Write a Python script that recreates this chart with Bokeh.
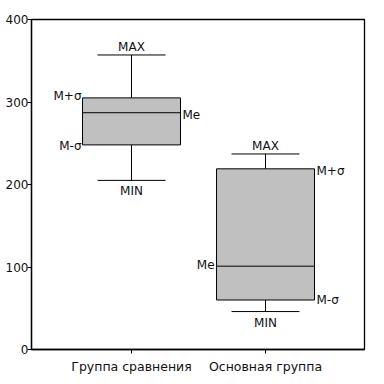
from bokeh.plotting import figure
from bokeh.models import Range1d, FixedTicker, ColumnDataSource
from bokeh.core.properties import value
from bokeh.embed import file_html
from bokeh.resources import INLINE

categories = ["Группа сравнения", "Основная группа"]
positions = [1, 2]
max_vals = [357, 237]
plus_sigma = [305, 219]
medians = [287, 101]
minus_sigma = [248, 60]
min_vals = [205, 46]
y_ticks = [0, 100, 200, 300, 400]

FONT = "DejaVu Sans"
BOX_W = 0.731
CAP_W = 0.507

p = figure(width=376, height=376, output_backend="svg", toolbar_location=None,
           x_range=Range1d(0.2537, 2.7387), y_range=Range1d(0, 400),
           min_border_left=31, min_border_right=12, min_border_top=19, min_border_bottom=25)
p.background_fill_color = "white"
p.border_fill_color = "white"
p.outline_line_color = "black"
p.outline_line_width = 1.3
p.xgrid.visible = False
p.ygrid.visible = False

for ax in (p.xaxis[0], p.yaxis[0]):
    ax.axis_line_color = "black"
    ax.axis_line_width = 1.3
    ax.major_tick_line_color = "black"
    ax.major_tick_in = 0
    ax.major_tick_out = 4
    ax.minor_tick_line_color = None
    ax.major_label_text_font = FONT
    ax.major_label_text_color = "#111111"

p.yaxis.ticker = FixedTicker(ticks=y_ticks)
p.yaxis.major_label_text_font_size = "12px"
p.yaxis.major_label_standoff = -1
p.xaxis.ticker = FixedTicker(ticks=positions)
p.xaxis.major_label_overrides = {pos: c for pos, c in zip(positions, categories)}
p.xaxis.major_label_text_font_size = "12.5px"
p.xaxis.major_label_standoff = 5

# whiskers
p.segment(x0=positions, y0=max_vals, x1=positions, y1=plus_sigma, line_color="black", line_width=1)
p.segment(x0=positions, y0=min_vals, x1=positions, y1=minus_sigma, line_color="black", line_width=1)
# caps
lefts_c = [x - CAP_W / 2 for x in positions]
rights_c = [x + CAP_W / 2 for x in positions]
p.segment(x0=lefts_c, y0=max_vals, x1=rights_c, y1=max_vals, line_color="black", line_width=1)
p.segment(x0=lefts_c, y0=min_vals, x1=rights_c, y1=min_vals, line_color="black", line_width=1)
# boxes
p.vbar(x=positions, width=BOX_W, bottom=minus_sigma, top=plus_sigma,
       fill_color="#c0c0c0", line_color="black", line_width=1)
# median
lefts_b = [x - BOX_W / 2 for x in positions]
rights_b = [x + BOX_W / 2 for x in positions]
p.segment(x0=lefts_b, y0=medians, x1=rights_b, y1=medians, line_color="black", line_width=1)

# labels
def add_labels(xs, ys, texts, align, baseline, xo, yo):
    src = ColumnDataSource(dict(x=xs, y=ys, t=texts, xo=xo, yo=yo))
    p.text(x="x", y="y", text="t", source=src, x_offset="xo", y_offset="yo",
           text_align=align, text_baseline=baseline, text_font=value(FONT),
           text_font_size="12px", text_color="#111111")

# MAX (above caps), MIN (below caps)
add_labels(positions, max_vals, ["MAX", "MAX"], "center", "bottom", [0, 0], [-1, -1])
add_labels(positions, min_vals, ["MIN", "MIN"], "center", "top", [0, 0], [4, 4])
# group 1: sigma labels left of box, Me right
add_labels([lefts_b[0], lefts_b[0]], [plus_sigma[0], minus_sigma[0]], ["M+σ", "M-σ"],
           "right", "middle", [-1, -1], [-2, 1])
add_labels([rights_b[0]], [medians[0]], ["Me"], "left", "middle", [2], [2])
# group 2: sigma labels right of box, Me left
add_labels([rights_b[1], rights_b[1]], [plus_sigma[1], minus_sigma[1]], ["M+σ", "M-σ"],
           "left", "middle", [2, 2], [2, 0])
add_labels([lefts_b[1]], [medians[1]], ["Me"], "right", "middle", [-2], [-1])

open("out.html", "w").write(file_html(p, INLINE))
